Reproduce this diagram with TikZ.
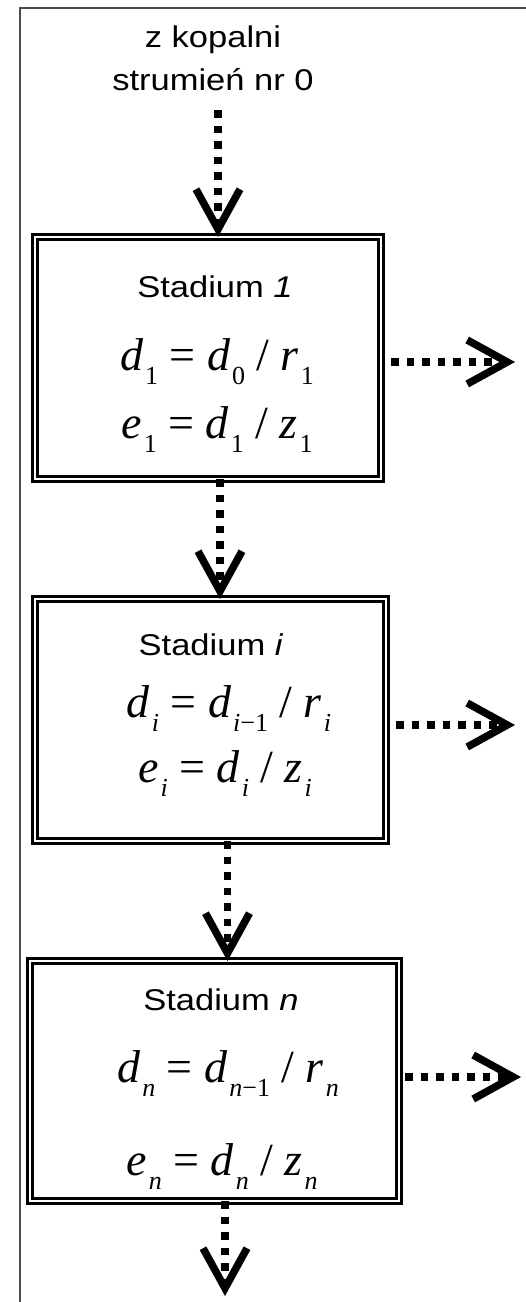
\documentclass[tikz,border=0pt]{standalone}
\usepackage{fontspec}
\setmainfont{Liberation Serif}
\newfontfamily\labelfont[FakeStretch=1.15]{Liberation Sans}
\usetikzlibrary{arrows.meta}

% italic letter with a lowered index
\newcommand{\sub}[2]{\textit{#1}\kern2pt\raisebox{-0.32em}{\fontsize{26}{26}\selectfont #2}}

\tikzset{
  frame/.style={draw=black!70, line width=2.5pt},
  stage/.style={draw, line width=3pt, double, double distance=2.5pt, outer sep=0pt, inner sep=0pt},
  label/.style={font=\labelfont\fontsize{30}{36}\selectfont, anchor=base},
  eq/.style={font=\fontsize{46}{52}\selectfont, anchor=base},
  flow/.style={line width=7.5pt, dash pattern=on 7.5pt off 8pt,
    -{Straight Barb[length=40pt,width=44pt]}}
}

\begin{document}
\begin{tikzpicture}[x=1pt, y=-1pt]
    \useasboundingbox (0,0) rectangle (526,1302);
    \draw[frame] (526,8) -- (20,8) -- (20,1302);

    % source
    \node[label] (src1) at (213,47) {z kopalni};
    \node[label] (src2) at (213,90) {strumień nr 0};
    \coordinate (in) at (218,110);

    % stage boxes
    \node[stage, minimum width=346pt, minimum height=242pt] (box1) at (208,358) {};
    \node[stage, minimum width=351pt, minimum height=242pt] (box2) at (210.5,720) {};
    \node[stage, minimum width=369pt, minimum height=240pt] (box3) at (214.5,1081) {};

    % stage 1
    \node[label] (t1) at (215,297) {Stadium \textit{1}};
    \node[eq] (d1) at (217,370) {\sub{d}{1} = \sub{d}{0} / \sub{r}{1}};
    \node[eq] (e1) at (217,438) {\sub{e}{1} = \sub{d}{1} / \sub{z}{1}};

    % stage i
    \node[label] (t2) at (211,655) {Stadium \textit{i}};
    \node[eq] (d2) at (229,717) {\sub{d}{\textit{i}} = \sub{d}{\textit{i}−1} / \sub{r}{\textit{i}}};
    \node[eq] (e2) at (225,782) {\sub{e}{\textit{i}} = \sub{d}{\textit{i}} / \sub{z}{\textit{i}}};

    % stage n
    \node[label] (t3) at (221,1010) {Stadium \textit{n}};
    \node[eq] (d3) at (228,1082) {\sub{d}{\textit{n}} = \sub{d}{\textit{n}−1} / \sub{r}{\textit{n}}};
    \node[eq] (e3) at (222,1175) {\sub{e}{\textit{n}} = \sub{d}{\textit{n}} / \sub{z}{\textit{n}}};

    % outputs
    \coordinate (out1) at (515,362);
    \coordinate (out2) at (515,725);
    \coordinate (out3) at (521,1077);
    \coordinate (out4) at (225,1296);

    \draw[flow] (in) -- (in |- box1.north);
    \draw[flow] ([xshift=12pt]box1.south) -- ([xshift=12pt]box1.south |- box2.north);
    \draw[flow] ([xshift=17pt]box2.south) -- ([xshift=17pt]box2.south |- box3.north);
    \draw[flow] (out4 |- box3.south) -- (out4);
    \draw[flow, shorten <=10pt] (box1.east |- out1) -- (out1);
    \draw[flow, shorten <=10pt] (box2.east |- out2) -- (out2);
    \draw[flow, shorten <=6pt] (box3.east |- out3) -- (out3);
\end{tikzpicture}
\end{document}
